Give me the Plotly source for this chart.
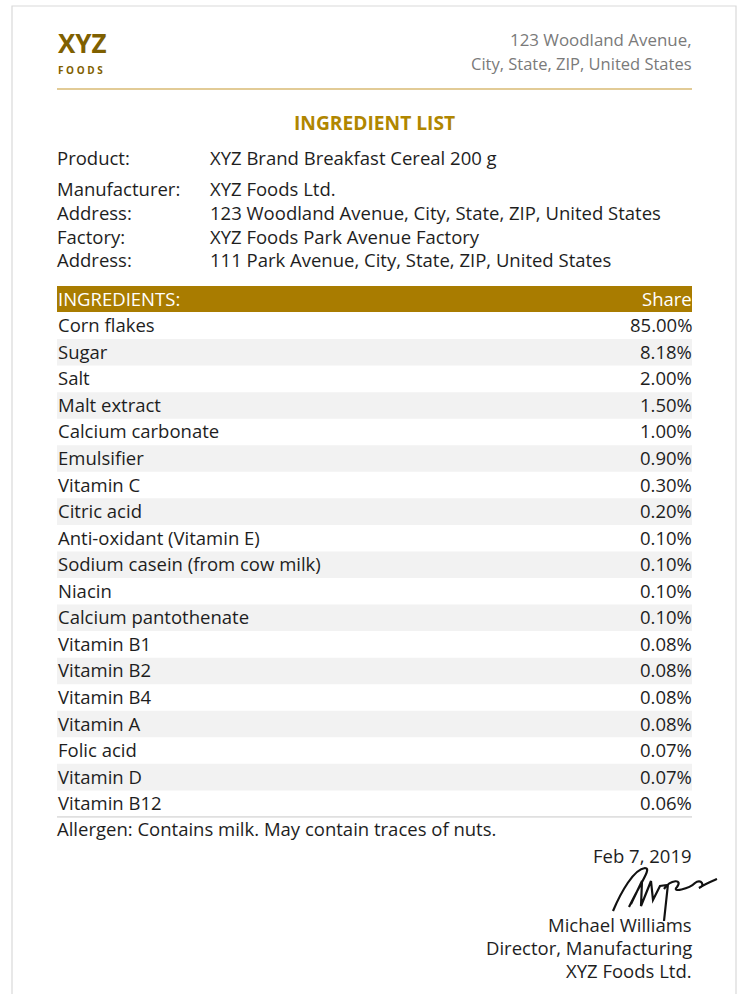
import plotly.graph_objects as go

# ---------------- data ----------------
ingredients = ["Corn flakes", "Sugar", "Salt", "Malt extract", "Calcium carbonate",
               "Emulsifier", "Vitamin C", "Citric acid", "Anti-oxidant (Vitamin E)",
               "Sodium casein (from cow milk)", "Niacin", "Calcium pantothenate",
               "Vitamin B1", "Vitamin B2", "Vitamin B4", "Vitamin A", "Folic acid",
               "Vitamin D", "Vitamin B12"]
shares = [85.00, 8.18, 2.00, 1.50, 1.00, 0.90, 0.30, 0.20, 0.10, 0.10, 0.10, 0.10,
          0.08, 0.08, 0.08, 0.08, 0.07, 0.07, 0.06]

info_labels = ["Product:", "Manufacturer:", "Address:", "Factory:", "Address:"]
info_values = ["XYZ Brand Breakfast Cereal 200 g", "XYZ Foods Ltd.",
               "123 Woodland Avenue, City, State, ZIP, United States",
               "XYZ Foods Park Avenue Factory",
               "111 Park Avenue, City, State, ZIP, United States"]
company_address = ["123 Woodland Avenue,", "City, State, ZIP, United States"]
signer = ["Michael Williams", "Director, Manufacturing", "XYZ Foods Ltd."]
sign_date = "Feb 7, 2019"
allergen = "Allergen: Contains milk. May contain traces of nuts."

# ---------------- style ----------------
W, H = 740, 994
FONT = "Open Sans"
FS = 18.5
TXT = "#1e1e1e"
GOLD_DARK = "#7f6000"
GOLD = "#a97c00"
GOLD_TITLE = "#b08600"
GOLD_LINE = "#e2cb96"
GRAY_TXT = "#7a7a7a"
STRIPE = "#f2f2f2"

L, R = 57, 692
TL, TR = L - 2, R + 1.5     # text anchors (compensate glyph side bearings)
DY = -1                     # vertical text nudge
HEAD_TOP, HEAD_H = 286, 26
ROW_TOP, ROW_H = 312.5, 26.55

fig = go.Figure()
fig.add_trace(go.Scatter(x=[0, W], y=[0, H], mode="markers",
                         marker=dict(opacity=0), hoverinfo="skip", showlegend=False))

shapes = []
ann = []

def text(x, y, s, size=FS, color=TXT, anchor="left", bold=False, family=FONT):
    ann.append(dict(x=x, y=y + DY, xref="x", yref="y",
                    text=(f"<b>{s}</b>" if bold else s),
                    showarrow=False, xanchor=anchor, yanchor="middle",
                    font=dict(family=family, size=size, color=color)))

# page border
shapes.append(dict(type="rect", xref="x", yref="y", x0=12, x1=736, y0=6, y1=H + 5,
                   line=dict(color="#d9d9d9", width=1.2), fillcolor="white", layer="below"))

# header
text(L - 1, 44, "XYZ", size=26, color=GOLD_DARK, bold=True)
text(L - 1, 71, "F O O D S", size=10, color=GOLD_DARK, bold=True)
for i, s, sz in zip(range(2), company_address, [16.9, 16.5]):
    text(TR, 40 + i * 24, s, size=sz, color=GRAY_TXT, anchor="right")
shapes.append(dict(type="line", xref="x", yref="y", x0=L, x1=R, y0=89, y1=89,
                   line=dict(color=GOLD_LINE, width=2)))

text((L + R) / 2, 123, "INGREDIENT LIST", size=19.2, color=GOLD_TITLE, bold=True,
     anchor="center")

# info block
info_y = [158, 189, 213, 237, 260]
for lab, val, y in zip(info_labels, info_values, info_y):
    text(TL, y, lab)
    text(208, y, val)

# table header
shapes.append(dict(type="rect", xref="x", yref="y", x0=L, x1=R, y0=HEAD_TOP,
                   y1=HEAD_TOP + HEAD_H, fillcolor=GOLD, line=dict(width=0), layer="below"))
text(TL + 1, HEAD_TOP + HEAD_H / 2, "INGREDIENTS:", color="white")
text(TR, HEAD_TOP + HEAD_H / 2, "Share", color="white", anchor="right")

# table rows
for i, (name, val) in enumerate(zip(ingredients, shares)):
    y0 = ROW_TOP + i * ROW_H
    if i % 2 == 1:
        shapes.append(dict(type="rect", xref="x", yref="y", x0=L, x1=R, y0=y0,
                           y1=y0 + ROW_H, fillcolor=STRIPE, line=dict(width=0),
                           layer="below"))
    text(TL + 1, y0 + ROW_H / 2, name)
    text(TR, y0 + ROW_H / 2, f"{val:.2f}%", anchor="right")
bottom = ROW_TOP + len(ingredients) * ROW_H
shapes.append(dict(type="line", xref="x", yref="y", x0=L, x1=R, y0=bottom, y1=bottom,
                   line=dict(color="#c8c8c8", width=1)))

text(TL, bottom + 13, allergen)

# signature block
text(TR, 856, sign_date, anchor="right")
sig = ("M 613,911 C 621,892 634,869 645,868 C 652,868 641,882 629,907 "
       "M 631,904 L 642,881 L 641,906 L 651,881 L 653,900 L 660,886 L 667,885 "
       "M 668,884 L 664,921 "
       "M 664,889 C 671,879 683,879 677,887 C 671,893 689,889 695,883 "
       "C 701,878 706,886 699,888 C 705,884 710,882 717,879")
shapes.append(dict(type="path", xref="x", yref="y", path=sig,
                   line=dict(color="#111111", width=2.2)))
for i, s in enumerate(signer):
    text(TR, 925 + i * 23, s, anchor="right")

fig.update_layout(
    width=W, height=H, margin=dict(l=0, r=0, t=0, b=0),
    paper_bgcolor="white", plot_bgcolor="white",
    xaxis=dict(range=[0, W], visible=False, fixedrange=True),
    yaxis=dict(range=[H, 0], visible=False, fixedrange=True),
    shapes=shapes, annotations=ann, showlegend=False,
)
fig.write_html("out.html", config={"displayModeBar": False},
               post_script="document.body.style.margin='0';document.body.style.overflow='hidden';")
